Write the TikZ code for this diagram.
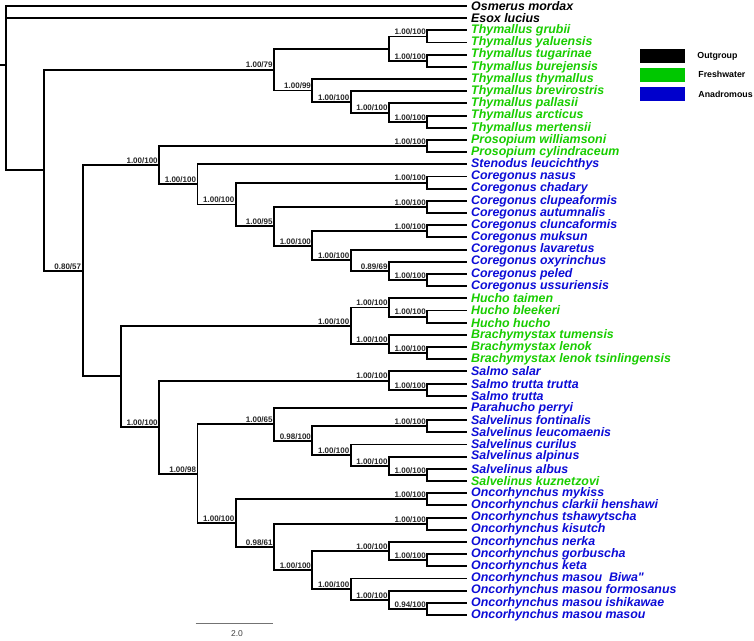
\documentclass[tikz,border=0pt]{standalone}
\usepackage{fontspec}
\setmainfont{Liberation Sans}
\newfontfamily\nomap{Liberation Sans}
\usetikzlibrary{positioning}

\definecolor{freshgreen}{RGB}{25,205,0}
\definecolor{anablue}{RGB}{12,12,215}

\tikzset{
  branch/.style={line width=1.9pt, line join=miter, line cap=rect},
  taxon/.style={anchor=west, inner sep=0pt, font=\fontsize{12.4}{13}\selectfont\bfseries\itshape},
  outg/.style={taxon, text=black},
  fresh/.style={taxon, text=freshgreen},
  anad/.style={taxon, text=anablue},
  supp/.style={anchor=south east, inner sep=1.3pt, font=\fontsize{8}{9}\selectfont\bfseries, text=black!85},
  keybox/.style={minimum width=45pt, minimum height=14pt, inner sep=0pt},
  keytext/.style={anchor=west, inner sep=0pt, font=\fontsize{8.8}{10}\selectfont\bfseries}
}

\begin{document}
\begin{tikzpicture}[x=1pt, y=-1pt]
    \useasboundingbox (0,0) rectangle (754,640);

    % Taxa
    \foreach \i/\c/\nm in {
        1/outg/Osmerus mordax, 2/outg/Esox lucius,
        3/fresh/Thymallus grubii, 4/fresh/Thymallus yaluensis,
        5/fresh/Thymallus tugarinae, 6/fresh/Thymallus burejensis,
        7/fresh/Thymallus thymallus, 8/fresh/Thymallus brevirostris,
        9/fresh/Thymallus pallasii, 10/fresh/Thymallus arcticus,
        11/fresh/Thymallus mertensii, 12/fresh/Prosopium williamsoni,
        13/fresh/Prosopium cylindraceum, 14/anad/Stenodus leucichthys,
        15/anad/Coregonus nasus, 16/anad/Coregonus chadary,
        17/anad/Coregonus clupeaformis, 18/anad/Coregonus autumnalis,
        19/anad/Coregonus cluncaformis, 20/anad/Coregonus muksun,
        21/anad/Coregonus lavaretus, 22/anad/Coregonus oxyrinchus,
        23/anad/Coregonus peled, 24/anad/Coregonus ussuriensis,
        25/fresh/Hucho taimen, 26/fresh/Hucho bleekeri, 27/fresh/Hucho hucho,
        28/fresh/Brachymystax tumensis, 29/fresh/Brachymystax lenok,
        30/fresh/Brachymystax lenok tsinlingensis,
        31/anad/Salmo salar, 32/anad/Salmo trutta trutta, 33/anad/Salmo trutta,
        34/anad/Parahucho perryi, 35/anad/Salvelinus fontinalis,
        36/anad/Salvelinus leucomaenis, 37/anad/Salvelinus curilus,
        38/anad/Salvelinus alpinus, 39/anad/Salvelinus albus,
        40/fresh/Salvelinus kuznetzovi, 41/anad/Oncorhynchus mykiss,
        42/anad/Oncorhynchus clarkii henshawi, 43/anad/Oncorhynchus tshawytscha,
        44/anad/Oncorhynchus kisutch, 45/anad/Oncorhynchus nerka,
        46/anad/Oncorhynchus gorbuscha, 47/anad/Oncorhynchus keta,
        48/anad/Oncorhynchus masou\ \ Biwa{\nomap"}, 49/anad/Oncorhynchus masou formosanus,
        50/anad/Oncorhynchus masou ishikawae, 51/anad/Oncorhynchus masou masou}{
        \coordinate (t\i) at (465.6, {6+(\i-1)*12.18});
        \node[\c] (n\i) at (471, {6+(\i-1)*12.18}) {\nm};
    }

    % Internal nodes
    \coordinate (stem) at (0, 64.8);
    \coordinate (root) at (6, 64.8);
    \coordinate (ing)  at (44.3, 170.2);
    \coordinate (thy)  at (274.1, 69.6);
    \coordinate (thyab) at (389, 48.6);
    \coordinate (thya) at (427.3, 36.5);
    \coordinate (thyb) at (427.3, 60.8);
    \coordinate (thyf) at (312.4, 90.5);
    \coordinate (thye) at (350.7, 101.9);
    \coordinate (thyd) at (389, 112.6);
    \coordinate (thyc) at (427.3, 121.7);
    \coordinate (nb)   at (82.6, 270.9);
    \coordinate (pc)   at (159.2, 165.3);
    \coordinate (pro)  at (427.3, 146.1);
    \coordinate (sc)   at (197.5, 184.4);
    \coordinate (cor)  at (235.8, 204.5);
    \coordinate (cora) at (427.3, 182.6);
    \coordinate (corb) at (274.1, 226.4);
    \coordinate (corc) at (427.3, 207.0);
    \coordinate (cord) at (312.4, 245.8);
    \coordinate (core) at (427.3, 231.3);
    \coordinate (corf) at (350.7, 260.3);
    \coordinate (corg) at (389, 271.0);
    \coordinate (corh) at (427.3, 280.0);
    \coordinate (nc)   at (120.9, 376.4);
    \coordinate (hb)   at (350.7, 325.7);
    \coordinate (huc)  at (389, 307.5);
    \coordinate (huca) at (427.3, 316.6);
    \coordinate (bra)  at (389, 344.0);
    \coordinate (braa) at (427.3, 353.1);
    \coordinate (sso)  at (159.2, 427.2);
    \coordinate (sal)  at (389, 380.6);
    \coordinate (sala) at (427.3, 389.7);
    \coordinate (so)   at (197.5, 473.7);
    \coordinate (sv)   at (274.1, 424.3);
    \coordinate (sva)  at (312.4, 440.7);
    \coordinate (svb)  at (427.3, 426.2);
    \coordinate (svc)  at (350.7, 455.2);
    \coordinate (svd)  at (389, 465.8);
    \coordinate (sve)  at (427.3, 474.9);
    \coordinate (onc)  at (235.8, 523.1);
    \coordinate (onca) at (427.3, 499.3);
    \coordinate (oncb) at (274.1, 546.9);
    \coordinate (oncc) at (427.3, 523.7);
    \coordinate (oncd) at (312.4, 570.1);
    \coordinate (once) at (389, 551.1);
    \coordinate (oncg) at (427.3, 560.2);
    \coordinate (oncf) at (350.7, 589.2);
    \coordinate (onch) at (389, 599.8);
    \coordinate (onci) at (427.3, 608.9);

    % Branches
    \draw[branch] (stem) -- (root);
    \foreach \p/\c in {root/t1, root/t2, root/ing,
        ing/thy, ing/nb,
        thy/thyab, thy/thyf, thyab/thya, thyab/thyb,
        thya/t3, thya/t4, thyb/t5, thyb/t6,
        thyf/t7, thyf/thye, thye/t8, thye/thyd, thyd/t9, thyd/thyc,
        thyc/t10, thyc/t11,
        nb/pc, nb/nc,
        pc/pro, pc/sc, pro/t12, pro/t13,
        sc/t14, sc/cor, cor/cora, cor/corb, cora/t15, cora/t16,
        corb/corc, corb/cord, corc/t17, corc/t18,
        cord/core, cord/corf, core/t19, core/t20,
        corf/t21, corf/corg, corg/t22, corg/corh, corh/t23, corh/t24,
        nc/hb, nc/sso,
        hb/huc, hb/bra, huc/t25, huc/huca, huca/t26, huca/t27,
        bra/t28, bra/braa, braa/t29, braa/t30,
        sso/sal, sso/so, sal/t31, sal/sala, sala/t32, sala/t33,
        so/sv, so/onc, sv/t34, sv/sva,
        sva/svb, sva/svc, svb/t35, svb/t36,
        svc/t37, svc/svd, svd/t38, svd/sve, sve/t39, sve/t40,
        onc/onca, onc/oncb, onca/t41, onca/t42,
        oncb/oncc, oncb/oncd, oncc/t43, oncc/t44,
        oncd/once, oncd/oncf, once/t45, once/oncg, oncg/t46, oncg/t47,
        oncf/t48, oncf/onch, onch/t49, onch/onci, onci/t50, onci/t51}{
        \draw[branch] (\p) |- (\c);
    }

    % Support values
    \foreach \n/\pp/\bs in {thy/1.00/79, thya/1.00/100, thyb/1.00/100,
        thyf/1.00/99, thye/1.00/100, thyd/1.00/100, thyc/1.00/100,
        nb/0.80/57, pc/1.00/100, pro/1.00/100, sc/1.00/100, cor/1.00/100,
        cora/1.00/100, corb/1.00/95, corc/1.00/100, cord/1.00/100,
        core/1.00/100, corf/1.00/100, corg/0.89/69, corh/1.00/100,
        hb/1.00/100, huc/1.00/100, huca/1.00/100, bra/1.00/100, braa/1.00/100,
        sso/1.00/100, sal/1.00/100, sala/1.00/100, so/1.00/98,
        sv/1.00/65, sva/0.98/100, svb/1.00/100, svc/1.00/100, svd/1.00/100,
        sve/1.00/100, onc/1.00/100, onca/1.00/100, oncb/0.98/61,
        oncc/1.00/100, oncd/1.00/100, once/1.00/100, oncg/1.00/100,
        oncf/1.00/100, onch/1.00/100, onci/0.94/100}{
        \node[supp] (s\n) at (\n) {\pp/\bs};
    }

    % Legend
    \node[keybox, fill=black] (kout) at (662.5, 56) {};
    \node[keybox, fill=green!78!black] (kfresh) at (662.5, 74.5) {};
    \node[keybox, fill=blue!80!black] (kana) at (662.5, 94) {};
    \node[keytext, right=12pt of kout] (lout) {Outgroup};
    \node[keytext, right=13pt of kfresh] (lfresh) {Freshwater};
    \node[keytext, right=13pt of kana] (lana) {Anadromous};

    % Scale
    \coordinate (sbl) at (195.5, 623.3);
    \coordinate (sbr) at (272.5, 623.3);
    \draw[line width=1.3pt, black!55] (sbl) -- (sbr);
    \node[font=\fontsize{8.5}{10}\selectfont, text=black!75, inner sep=0pt] (sblab) at (237, 634) {2.0};
\end{tikzpicture}
\end{document}
